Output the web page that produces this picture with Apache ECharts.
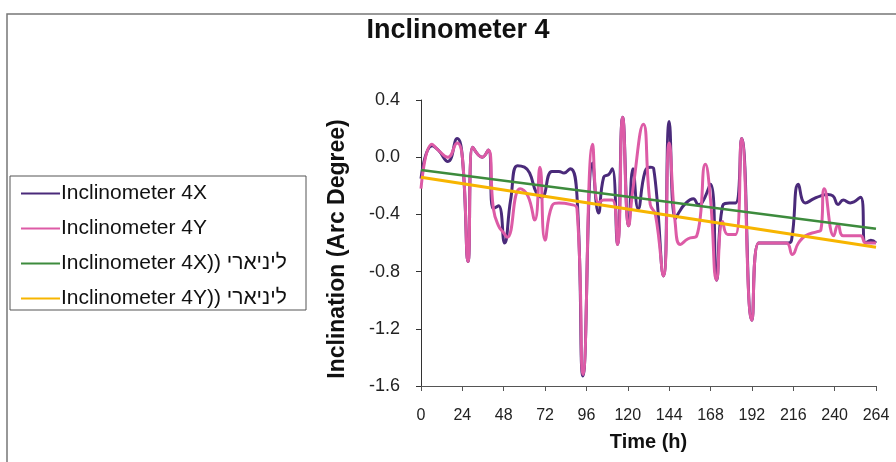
<!DOCTYPE html>
<html>
<head>
<meta charset="utf-8">
<script src="https://cdn.jsdelivr.net/npm/echarts@6/dist/echarts.min.js"></script>
<style>
html,body{margin:0;padding:0;background:#fff;}
#chart{width:896px;height:462px;}
</style>
</head>
<body>
<div id="chart"></div>
<script>
// ---- data ----
const chartTitle = 'Inclinometer 4';
const seriesNames = ['Inclinometer 4X', 'Inclinometer 4Y', 'Inclinometer 4X)) ליניארי', 'Inclinometer 4Y)) ליניארי'];
const xTicks = [0, 24, 48, 72, 96, 120, 144, 168, 192, 216, 240, 264];
const yTicks = [-1.6, -1.2, -0.8, -0.4, 0.0, 0.4];

const timeX = [0, 6.4, 10, 15.6, 21, 24, 27.3, 30, 35.5, 39, 42, 45, 48.5, 52, 56, 60, 63, 67, 70, 76, 80, 83, 86.6, 90.5, 94, 99.6, 103, 106, 109, 111, 114, 117, 120.5, 123, 126, 130, 133, 135, 140.7, 144, 147.5, 150, 153, 158, 161, 163, 168, 171.5, 175, 179, 182.5, 186, 192, 196, 205, 213, 215, 219, 223, 228, 232, 236, 239, 242, 245, 249, 255, 258, 261, 264];
const valX  = [-0.15, 0.08, 0.05, -0.03, 0.13, 0.0, -0.73, 0.07, 0.0, 0.05, -0.36, -0.34, -0.60, -0.30, -0.06, -0.07, -0.11, -0.25, -0.28, -0.10, -0.10, -0.11, -0.08, -0.27, -1.53, -0.04, -0.39, -0.14, -0.12, -0.08, -0.61, 0.28, -0.48, -0.08, -0.36, -0.10, -0.07, -0.08, -0.83, 0.25, -0.43, -0.38, -0.33, -0.29, -0.33, -0.32, -0.19, -0.86, -0.34, -0.32, -0.32, 0.13, -1.14, -0.60, -0.60, -0.60, -0.58, -0.19, -0.32, -0.29, -0.27, -0.26, -0.27, -0.33, -0.30, -0.32, -0.28, -0.60, -0.58, -0.60];

const timeY = [0, 6.4, 10, 15.6, 21, 24, 27.3, 30, 35.5, 39, 42, 45, 48, 50, 57.5, 62, 66, 69, 72, 76, 80, 86.6, 90.5, 94, 99.6, 103, 106, 111, 114, 117, 120.5, 123, 129, 133, 136, 140.7, 144, 147.5, 150.5, 155, 160, 165, 168, 171.5, 175, 178, 182.5, 186, 192, 196, 205, 212, 215.5, 219, 223, 230, 232, 234, 239.5, 242, 245, 255, 258, 264];
const valY  = [-0.22, 0.09, 0.05, 0.0, 0.10, 0.0, -0.73, 0.07, 0.0, 0.05, -0.36, -0.48, -0.53, -0.56, -0.22, -0.27, -0.44, -0.07, -0.58, -0.34, -0.32, -0.33, -0.36, -1.52, 0.09, -0.32, -0.30, -0.30, -0.61, 0.28, -0.48, -0.22, 0.23, -0.33, -0.40, -0.83, 0.10, -0.46, -0.61, -0.57, -0.55, -0.05, -0.30, -0.86, -0.45, -0.54, -0.54, 0.13, -1.14, -0.60, -0.60, -0.60, -0.68, -0.60, -0.55, -0.52, -0.51, -0.22, -0.55, -0.47, -0.55, -0.55, -0.60, -0.60];

const trendTime = [0, 264];
const trendX = [-0.09, -0.50];
const trendY = [-0.14, -0.63];

// ---- build ----
const zip = (a, b) => a.map((t, i) => [t, b[i]]);
const FONT = 'Liberation Sans, Arial, sans-serif';
const colors = ['#4a2a7a', '#dd5ba6', '#3d8b3d', '#f7b500'];

const chart = echarts.init(document.getElementById('chart'), null, {renderer: 'canvas'});
chart.setOption({
  animation: false,
  backgroundColor: '#ffffff',
  grid: {left: 421, right: 20, top: 100, bottom: 76, containLabel: false},
  graphic: [
    {type: 'rect', shape: {x: 7, y: 14, width: 900, height: 460}, style: {fill: 'none', stroke: '#777', lineWidth: 1.5}, silent: true},
    {type: 'rect', shape: {x: 10, y: 176, width: 296, height: 134}, style: {fill: '#fff', stroke: '#555', lineWidth: 1}, silent: true, z: 0},
    {type: 'text', x: 458, y: 31, style: {text: chartTitle, font: 'bold 27px ' + FONT, fill: '#111', textAlign: 'center', textVerticalAlign: 'middle'}, silent: true}
  ],
  legend: {
    orient: 'vertical', left: 21, top: 183, padding: 0,
    itemWidth: 39, itemHeight: 2, itemGap: 14, icon: 'rect',
    textStyle: {fontFamily: FONT, fontSize: 21, color: '#111', lineHeight: 21, padding: [0, 0, 0, -4]},
    data: seriesNames, z: 10
  },
  xAxis: [
    {
      type: 'value', min: 0, max: 264, interval: 24, position: 'bottom',
      axisLine: {show: false}, axisTick: {show: false}, splitLine: {show: false},
      axisLabel: {margin: 22, fontFamily: FONT, fontSize: 16, color: '#222', customValues: xTicks},
      name: 'Time (h)', nameLocation: 'middle', nameGap: 46,
      nameTextStyle: {fontFamily: FONT, fontSize: 20, fontWeight: 'bold', color: '#111'}
    },
    {
      type: 'value', min: 0, max: 264, interval: 24, position: 'bottom',
      axisLine: {show: true, onZero: true, lineStyle: {color: '#555', width: 1}},
      axisTick: {show: true, inside: false, length: 5, lineStyle: {color: '#555'}},
      axisLabel: {show: false}, splitLine: {show: false}
    }
  ],
  yAxis: {
    type: 'value', min: -1.6, max: 0.4, interval: 0.4,
    axisLine: {show: true, lineStyle: {color: '#333', width: 1}},
    axisTick: {show: true, length: 5, lineStyle: {color: '#333'}},
    splitLine: {show: false},
    axisLabel: {margin: 21, fontFamily: FONT, fontSize: 18, color: '#222', formatter: v => v.toFixed(1), customValues: yTicks},
    name: 'Inclination (Arc Degree)', nameLocation: 'middle', nameRotate: 90, nameGap: 72,
    nameTextStyle: {fontFamily: FONT, fontSize: 23, fontWeight: 'bold', color: '#111', padding: [0, 12, 0, 0]}
  },
  series: [
    {name: seriesNames[0], type: 'line', data: zip(timeX, valX), smooth: 0.5, showSymbol: false, color: colors[0], lineStyle: {width: 3}, z: 2},
    {name: seriesNames[1], type: 'line', data: zip(timeY, valY), smooth: 0.5, showSymbol: false, color: colors[1], lineStyle: {width: 3}, z: 3},
    {name: seriesNames[2], type: 'line', data: zip(trendTime, trendX), showSymbol: false, color: colors[2], lineStyle: {width: 2.5}, z: 4},
    {name: seriesNames[3], type: 'line', data: zip(trendTime, trendY), showSymbol: false, color: colors[3], lineStyle: {width: 3}, z: 4}
  ]
});
</script>
</body>
</html>
